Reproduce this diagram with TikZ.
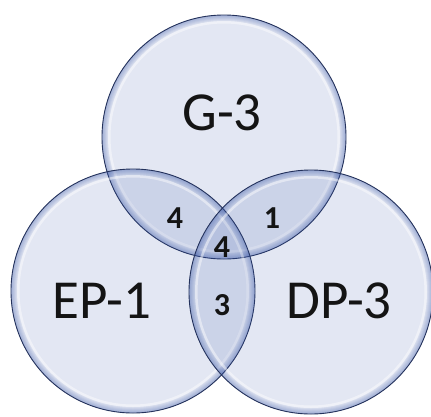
\documentclass[tikz,border=0pt]{standalone}
\usepackage{fontspec}
\setmainfont{Carlito}
\usepackage{tikz}
\usetikzlibrary{positioning}
\definecolor{vnedge}{RGB}{36,50,92}
\definecolor{vnfill}{RGB}{60,90,170}
\definecolor{vnink}{RGB}{20,20,20}
\tikzset{
  venn/.style={
    circle, draw=vnedge, line width=0.9pt, fill=vnfill, fill opacity=0.14,
    minimum size=244pt, inner sep=0pt,
    path picture={
      % darker rim towards the edge
      \foreach \r in {122,121,120,119,118,117,116}
        \fill[vnfill, fill opacity=0.07, even odd rule]
          (path picture bounding box.center) circle (122pt) circle (\r pt);
      % soft highlight just inside the rim
      \fill[white, fill opacity=0.45, even odd rule]
          (path picture bounding box.center) circle (116pt) circle (113.5pt);
    }
  },
  setlbl/.style={font=\fontsize{55}{60}\selectfont, text=vnink, inner sep=0pt},
  cnt/.style={font=\bfseries\fontsize{32}{36}\selectfont, text=vnink, inner sep=0pt}
}
\begin{document}
\begin{tikzpicture}[x=1pt, y=-1pt]
  \useasboundingbox[fill=white] (0,0) rectangle (431,416);
  % the three sets
  \node[venn] (g)  at (224,137) {};
  \node[venn] (ep) at (133,291) {};
  \node[venn] (dp) at (311,292) {};
  % set names
  \node[setlbl] (gl)  at (222,113) {G-3};
  \node[setlbl] (epl) at (102,301) {EP-1};
  \node[setlbl] (dpl) at (339,301) {DP-3};
  % counts in the overlaps
  \node[cnt] (gep)   at (175,218) {4};
  \node[cnt] (gdp)   at (272,218) {1};
  \node[cnt] (all)   at (222,247) {4};
  \node[cnt] (epdp)  at (222,305) {3};
\end{tikzpicture}
\end{document}
